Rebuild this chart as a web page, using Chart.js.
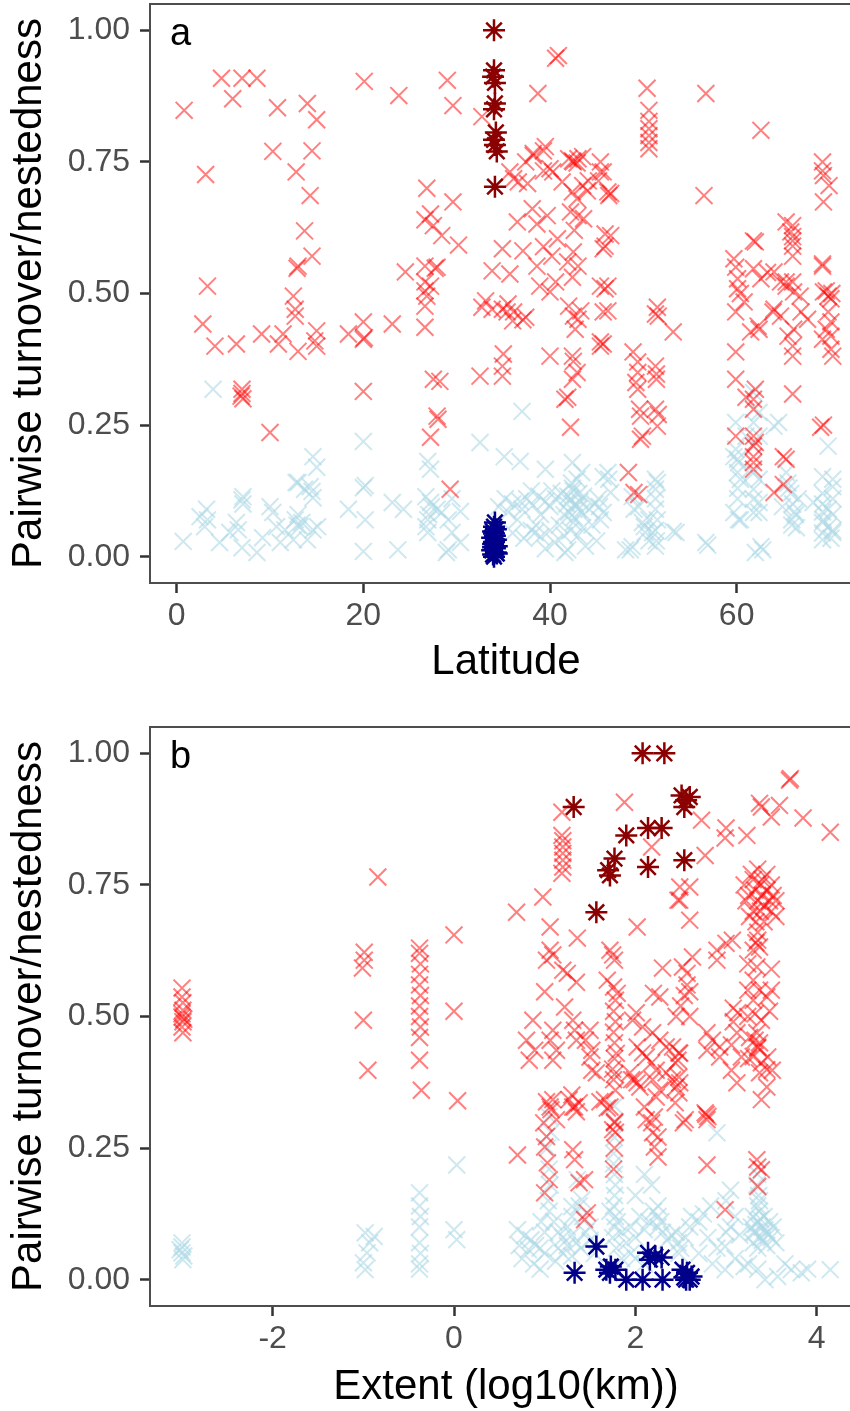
<!DOCTYPE html>
<html>
<head>
<meta charset="utf-8">
<script src="https://cdn.jsdelivr.net/npm/chart.js@4.4.1/dist/chart.umd.min.js"></script>
<style>
html,body{margin:0;padding:0;overflow:hidden;background:#fff;width:850px;height:1411px;}
#ca{position:absolute;left:0;top:0;}
#cb{position:absolute;left:0;top:700px;}
</style>
</head>
<body>
<canvas id="ca" width="870" height="700"></canvas>
<canvas id="cb" width="870" height="720"></canvas>
<script>
// ---------------- DATA ----------------
const yTicks = [0, 0.25, 0.5, 0.75, 1.0];
const aXTicks = [0, 20, 40, 60];
const bXTicks = [-2, 0, 2, 4];
const yTitle = 'Pairwise turnover/nestedness';
const aXTitle = 'Latitude';
const bXTitle = 'Extent (log10(km))';

// Panel a: [latitude, value]
const aTurnover = [
[0.8,0.848],[3.1,0.726],[4.8,0.909],[6.0,0.870],[7.0,0.909],[8.6,0.909],[10.8,0.853],[10.3,0.770],[14.0,0.861],[15.0,0.830],[14.5,0.771],[12.8,0.731],[14.3,0.686],[13.7,0.619],[14.5,0.571],[13.0,0.552],[12.9,0.548],[3.3,0.514],[12.5,0.495],[20.1,0.903],[23.8,0.876],[24.5,0.541],
[2.8,0.442],[4.1,0.400],[6.4,0.404],[9.1,0.423],[10.9,0.404],[11.4,0.423],[12.7,0.470],[12.7,0.457],[13.0,0.390],[15.0,0.429],[15.0,0.400],[14.8,0.410],[18.4,0.423],[20.0,0.446],[20.0,0.413],[20.1,0.416],[23.1,0.442],[20.0,0.314],[7.0,0.310],[7.1,0.300],[6.9,0.305],[7.0,0.318],[10.0,0.236],
[26.8,0.700],[29.6,0.674],[27.2,0.651],[26.6,0.640],[27.5,0.629],[28.4,0.610],[30.2,0.592],[26.6,0.552],[27.9,0.550],[27.7,0.548],[26.6,0.522],[27.2,0.514],[26.6,0.505],[26.8,0.495],[26.6,0.476],[26.6,0.436],[27.5,0.337],[28.2,0.333],[27.9,0.267],[28.0,0.261],[27.2,0.227],[29.3,0.128],[29.0,0.905],[29.6,0.857],[32.7,0.836],
[38.7,0.880],[40.9,0.952],[40.6,0.947],
[38.2,0.766],[39.5,0.779],[37.4,0.750],[35.7,0.731],[36.1,0.718],[36.6,0.712],[37.6,0.709],[39.3,0.733],[40.3,0.731],[41.3,0.712],[42.0,0.756],[42.5,0.750],[43.0,0.756],[42.4,0.752],[42.9,0.748],[43.5,0.760],[45.4,0.750],[45.4,0.731],[45.2,0.714],[46.3,0.686],[42.4,0.693],[42.9,0.680],[44.1,0.714],[43.5,0.705],[40.0,0.737],[45.7,0.731],[44.0,0.695],[46.2,0.693],[46.5,0.690],[38.2,0.762],[39.3,0.771],
[33.8,0.543],[35.7,0.537],[33.1,0.486],[33.8,0.470],[35.5,0.480],[36.1,0.465],[36.0,0.448],[37.4,0.455],[34.9,0.585],[36.5,0.636],[38.1,0.661],[38.6,0.632],[39.7,0.648],[37.1,0.581],[39.3,0.589],[40.8,0.604],[40.2,0.571],[38.6,0.552],[38.9,0.514],[40.0,0.503],[40.6,0.522],[41.9,0.560],[42.5,0.579],[43.0,0.552],[42.4,0.531],[42.0,0.476],[42.5,0.457],[43.0,0.451],[42.7,0.432],[43.3,0.467],[45.4,0.514],[45.9,0.509],[45.7,0.465],[45.4,0.400],[43.0,0.648],[43.6,0.642],[42.2,0.655],[42.6,0.620],[46.5,0.610],[45.7,0.585],[45.9,0.613],[45.9,0.590],[46.2,0.514],[46.2,0.467],[45.7,0.404],[32.7,0.474],[34.9,0.470],[35.4,0.465],[37.1,0.450],
[40.0,0.381],[42.4,0.381],[42.5,0.371],[42.9,0.350],[41.9,0.303],[35.0,0.385],[34.9,0.362],[32.5,0.343],[34.9,0.343],[42.4,0.337],[41.6,0.299],[42.2,0.246],[45.4,0.408],[48.4,0.160],[49.0,0.122],[49.5,0.118],[48.9,0.389],[49.4,0.370],[49.4,0.350],[49.2,0.331],[49.4,0.318],[49.6,0.280],[49.7,0.267],[49.9,0.229],[51.3,0.362],[51.4,0.347],[51.4,0.337],[51.3,0.280],[51.6,0.270],[51.5,0.248],[53.2,0.427],[51.3,0.461],[51.5,0.474],[51.6,0.457],[49.7,0.223],
[50.4,0.890],[50.6,0.848],[50.6,0.827],[50.6,0.813],[50.6,0.800],[50.6,0.787],[50.6,0.775],[56.7,0.880],[62.6,0.810],[56.5,0.686],[69.2,0.750],[69.2,0.733],[69.3,0.724],[69.9,0.705],[69.3,0.674],
[59.7,0.566],[59.9,0.550],[60.1,0.528],[61.8,0.600],[62.0,0.598],[61.8,0.547],[62.6,0.528],[63.3,0.540],[64.0,0.541],[65.3,0.636],[65.8,0.617],[66.0,0.608],[66.0,0.590],[66.0,0.571],[66.0,0.629],[66.0,0.600],[69.2,0.556],[69.2,0.552],[69.8,0.495],[70.1,0.490],[69.3,0.503],[69.6,0.505],[70.2,0.500],[65.3,0.514],[66.1,0.503],[64.7,0.522],[65.3,0.522],[66.0,0.522],[66.8,0.495],[64.0,0.470],[64.7,0.457],[62.3,0.438],[61.5,0.427],[62.4,0.432],[66.9,0.465],[67.6,0.451],[66.1,0.432],[66.0,0.400],[66.0,0.381],[65.5,0.419],[69.8,0.465],[70.1,0.446],[70.1,0.419],[70.1,0.394],[70.3,0.381],[69.2,0.413],[69.6,0.432],[60.1,0.509],[60.4,0.500],[60.8,0.484],[59.9,0.465],[63.9,0.465],[59.9,0.389],[59.9,0.337],[61.0,0.303],[61.8,0.299],[61.8,0.280],[62.0,0.318],[59.9,0.229],[61.8,0.229],[62.0,0.217],[61.8,0.210],[61.8,0.190],[61.8,0.179],[61.8,0.166],[66.0,0.309],[69.0,0.246],[69.3,0.250],[65.0,0.190],[65.3,0.185],[64.0,0.122],[65.0,0.137]
];

const aNestedness = [
[3.9,0.318],[20.0,0.219],[20.0,0.131],[20.2,0.135],[14.6,0.190],[15.0,0.170],[12.8,0.141],[13.0,0.141],[13.7,0.128],[14.5,0.124],[14.6,0.112],[14.3,0.133],[7.1,0.114],[7.1,0.100],[7.0,0.108],[3.2,0.090],[3.3,0.070],[2.5,0.076],[3.0,0.057],[0.7,0.029],[4.6,0.027],[5.7,0.046],[6.4,0.065],[6.6,0.051],[7.0,0.017],[8.6,0.008],[9.2,0.036],[10.0,0.095],[10.3,0.084],[10.7,0.057],[11.1,0.027],[11.6,0.051],[12.7,0.070],[13.0,0.080],[13.2,0.057],[13.4,0.065],[12.9,0.060],[12.5,0.032],[14.0,0.032],[14.6,0.051],[15.1,0.057],[18.4,0.090],[20.2,0.070],[20.0,0.010],[23.1,0.103],[24.3,0.090],[23.7,0.013],
[26.9,0.181],[27.2,0.166],[26.7,0.114],[27.2,0.103],[27.9,0.090],[26.9,0.070],[26.7,0.057],[26.9,0.046],[27.0,0.080],[27.3,0.095],[28.4,0.084],[29.1,0.070],[30.4,0.086],[29.5,0.110],[29.5,0.046],[29.1,0.013],[28.9,0.008],[30.4,0.027],[32.5,0.217],[35.1,0.190],[36.8,0.181],[37.0,0.276],[39.5,0.166],[42.4,0.179],[43.4,0.160],[42.9,0.147],[45.7,0.152],[46.3,0.147],[46.2,0.160],[46.5,0.122],[45.7,0.084],[45.3,0.095],[45.4,0.070],
[34.5,0.095],[35.2,0.110],[35.5,0.085],[36.0,0.100],[36.5,0.070],[36.8,0.105],[37.0,0.090],[37.5,0.110],[38.0,0.125],[38.2,0.098],[38.8,0.115],[39.0,0.080],[39.5,0.105],[40.0,0.095],[40.2,0.125],[40.6,0.110],[41.2,0.120],[41.5,0.080],[41.8,0.100],[42.0,0.085],[42.2,0.110],[42.4,0.130],[42.5,0.125],[42.6,0.075],[42.7,0.100],[42.8,0.095],[43.0,0.090],[43.1,0.120],[43.2,0.105],[43.6,0.115],[44.2,0.090],[44.8,0.100],[45.2,0.110],[42.3,0.140],[41.9,0.115],[43.4,0.085],
[36.0,0.045],[37.2,0.035],[38.0,0.050],[38.4,0.046],[38.5,0.060],[39.0,0.038],[39.5,0.015],[40.0,0.050],[40.5,0.027],[41.0,0.060],[41.5,0.040],[41.6,0.008],[41.9,0.013],[42.2,0.050],[42.5,0.065],[43.0,0.040],[43.5,0.055],[43.8,0.020],[44.5,0.060],[45.0,0.030],
[48.8,0.114],[49.5,0.095],[49.9,0.065],[50.2,0.046],[48.8,0.019],[48.1,0.013],[48.6,0.013],[49.0,0.090],[50.6,0.070],[50.1,0.057],[51.0,0.046],[50.6,0.030],[51.3,0.147],[51.5,0.141],[51.3,0.128],[51.3,0.110],[51.3,0.090],[51.5,0.070],[51.3,0.050],[51.4,0.030],[51.3,0.020],[53.2,0.048],[53.5,0.046],[56.7,0.027],[56.9,0.022],
[59.9,0.255],[59.7,0.190],[60.2,0.179],[59.9,0.204],[60.1,0.185],[60.4,0.147],[60.1,0.160],[60.1,0.130],[60.1,0.110],[59.7,0.084],[60.2,0.070],[60.4,0.070],[61.0,0.229],[61.8,0.312],[62.4,0.274],[61.8,0.255],[62.4,0.229],[61.8,0.210],[61.8,0.160],[62.4,0.147],[61.8,0.128],[61.8,0.109],[62.4,0.103],[61.8,0.084],[62.4,0.084],[62.8,0.013],[62.6,0.019],[62.0,0.008],[64.0,0.248],[64.5,0.255],
[65.3,0.160],[65.5,0.140],[65.8,0.120],[66.0,0.100],[66.2,0.085],[65.9,0.070],[66.4,0.055],[64.9,0.095],[65.6,0.130],[66.3,0.080],[65.9,0.060],[66.6,0.110],[68.2,0.103],
[69.2,0.152],[69.2,0.120],[69.2,0.100],[69.2,0.085],[69.3,0.070],[69.2,0.065],[69.2,0.045],[69.2,0.032],[70.3,0.147],[70.3,0.110],[70.3,0.080],[70.3,0.050],[69.8,0.057],[70.3,0.046],[69.8,0.210],[70.3,0.133],[69.8,0.090],[70.1,0.035]
];

const aTurnoverHighlight = [
[34.0,1.000],[34.0,0.924],[33.9,0.912],[34.1,0.900],[34.1,0.861],[34.0,0.850],[34.2,0.806],[34.0,0.792],[34.1,0.782],[34.3,0.770],[34.1,0.703]
];
const aNestednessHighlight = [
[34.0,0.000],[33.9,0.004],[34.2,0.008],[33.8,0.012],[34.1,0.016],[34.3,0.020],[33.9,0.024],[34.0,0.028],[34.2,0.032],[33.8,0.036],[34.1,0.040],[34.0,0.044],[33.9,0.048],[34.2,0.052],[34.0,0.057],[34.1,0.065],[33.9,0.018],[34.3,0.006]
];

// Panel b: [extent log10(km), value]
const bTurnover = [
[-3.00,0.554],[-3.00,0.537],[-2.99,0.526],[-2.99,0.512],[-3.00,0.505],[-3.00,0.499],[-2.98,0.495],[-2.99,0.490],[-3.00,0.480],[-2.99,0.469],
[-0.84,0.765],[-0.99,0.622],[-0.99,0.607],[-1.01,0.592],[-1.00,0.493],[-0.95,0.398],
[-0.38,0.630],[-0.38,0.620],[-0.37,0.600],[-0.38,0.580],[-0.38,0.560],[-0.37,0.540],[-0.38,0.520],[-0.38,0.500],[-0.37,0.480],[-0.38,0.460],[-0.38,0.417],[-0.36,0.360],
[0.00,0.655],[0.00,0.510],[0.04,0.340],
[0.70,0.237],[0.69,0.698],[0.98,0.727],[1.06,0.670],[1.36,0.649],[0.87,0.493],[0.80,0.455],[0.89,0.436],[0.83,0.417],
[1.02,0.338],[1.07,0.323],[0.99,0.298],[1.02,0.272],[1.00,0.252],[1.03,0.222],[1.00,0.165],[1.05,0.190],
[1.09,0.474],[1.06,0.455],[1.13,0.436],[1.09,0.417],[1.09,0.342],[1.06,0.328],[1.13,0.304],[1.27,0.342],[1.33,0.328],
[1.06,0.626],[1.09,0.617],[1.02,0.607],[1.20,0.588],[1.25,0.582],[1.00,0.547],[1.35,0.565],
[1.19,0.888],[1.19,0.844],[1.20,0.834],[1.20,0.822],[1.20,0.810],[1.20,0.797],[1.20,0.784],[1.19,0.772],[1.22,0.518],
[1.30,0.351],[1.31,0.328],[1.35,0.319],[1.38,0.336],[1.31,0.247],[1.33,0.228],[1.44,0.190],[1.38,0.184],[1.47,0.127],[1.44,0.114],
[1.31,0.493],[1.33,0.474],[1.35,0.455],[1.50,0.474],[1.45,0.455],[1.52,0.436],[1.50,0.423],[1.52,0.398],[1.57,0.393],
[1.66,0.342],[1.72,0.328],[1.61,0.338],[1.69,0.326],[1.77,0.298],[1.75,0.285],
[1.77,0.420],[1.77,0.390],[1.76,0.380],[1.78,0.360],[1.77,0.300],[1.78,0.280],[1.77,0.250],[1.76,0.210],
[1.72,0.626],[1.75,0.617],[1.77,0.607],[1.69,0.569],[1.76,0.556],[1.80,0.544],[1.78,0.531],[1.76,0.510],[1.78,0.490],[1.76,0.470],[1.77,0.450],[1.79,0.430],[1.75,0.400],
[1.88,0.907],[2.02,0.670],[2.18,0.822],[2.30,0.592],[2.20,0.544],[2.27,0.537],
[1.97,0.493],[2.01,0.507],[2.08,0.480],[2.19,0.469],[2.27,0.455],[2.34,0.442],[2.12,0.423],[2.18,0.412],[2.23,0.398],[2.19,0.380],[2.27,0.360],[2.23,0.347],
[2.02,0.442],[2.08,0.431],[1.96,0.380],[2.02,0.374],[1.94,0.393],[1.99,0.380],[2.05,0.366],
[2.10,0.328],[2.12,0.304],[2.21,0.309],[2.25,0.271],[2.21,0.252],[2.25,0.233],[2.18,0.298],[2.19,0.279],
[2.34,0.393],[2.41,0.380],[2.45,0.366],
[2.41,0.442],[2.48,0.431],[2.44,0.412],[2.48,0.385],[2.49,0.374],[2.48,0.355],[2.44,0.336],[2.55,0.304],[2.53,0.298],
[2.49,0.430],[2.47,0.417],
[2.52,0.594],[2.57,0.582],[2.63,0.613],[2.57,0.560],[2.60,0.547],[2.54,0.540],[2.50,0.520],[2.45,0.500],[2.60,0.500],
[2.49,0.721],[2.60,0.746],[2.47,0.721],[2.60,0.683],[2.49,0.746],[2.77,0.806],[2.73,0.873],
[2.77,0.317],[2.79,0.304],[2.80,0.310],[2.78,0.314],[2.79,0.218],[2.99,0.133],
[3.00,0.858],[2.99,0.839],[3.23,0.844],[2.90,0.626],[3.00,0.639],[3.07,0.645],[2.90,0.607],
[3.08,0.516],[3.13,0.507],[3.08,0.490],[3.12,0.469],[3.06,0.398],[3.12,0.374],[3.06,0.446],[3.17,0.423],
[2.79,0.469],[2.85,0.455],[2.93,0.442],[2.93,0.423],[2.79,0.436],
[3.20,0.750],[3.25,0.730],[3.30,0.760],[3.32,0.740],[3.35,0.720],[3.38,0.750],[3.40,0.730],[3.42,0.710],[3.45,0.740],[3.48,0.720],[3.50,0.700],[3.52,0.730],[3.55,0.690],[3.30,0.700],[3.28,0.770],[3.35,0.780],[3.40,0.760],[3.45,0.770],[3.22,0.720],[3.26,0.690],[3.33,0.680],[3.38,0.700],[3.50,0.750],[3.42,0.680],[3.55,0.720],[3.35,0.645],[3.37,0.632],[3.30,0.626],[3.35,0.660],[3.33,0.640],
[3.37,0.905],[3.39,0.898],[3.59,0.901],[3.50,0.879],[3.85,0.877],[4.15,0.850],[3.70,0.949],[3.71,0.952],
[3.34,0.594],[3.30,0.569],[3.37,0.550],[3.30,0.531],[3.45,0.537],[3.32,0.505],[3.39,0.493],[3.34,0.469],[3.37,0.450],[3.30,0.424],[3.45,0.399],[3.37,0.393],[3.45,0.366],[3.35,0.440],[3.32,0.455],[3.50,0.590],[3.50,0.550],[3.48,0.510],[3.24,0.600],[3.24,0.550],[3.24,0.500],[3.26,0.460],[3.25,0.420],
[3.35,0.442],[3.39,0.412],[3.46,0.423],[3.51,0.398],
[3.39,0.342],[3.34,0.228],[3.35,0.214],[3.39,0.209],[3.35,0.177]
];

const bNestedness = [
[-3.00,0.070],[-3.00,0.051],[-2.99,0.038],[-3.02,0.057],[-2.98,0.045],[-3.00,0.062],
[-0.98,0.089],[-0.88,0.082],[-0.93,0.070],[-0.96,0.051],[-1.00,0.032],[-0.98,0.019],
[-0.38,0.165],[-0.38,0.140],[-0.37,0.120],[-0.38,0.100],[-0.38,0.070],[-0.37,0.050],[-0.38,0.030],[-0.38,0.020],
[0.03,0.218],[0.00,0.095],[0.03,0.076],
[0.70,0.095],[0.78,0.084],[0.85,0.076],[0.90,0.065],[0.95,0.060],[1.00,0.050],[0.82,0.057],[0.72,0.065],[0.75,0.040],[0.88,0.030],[0.95,0.020],[1.00,0.090],[0.96,0.110],
[1.05,0.310],[1.07,0.280],[1.03,0.250],[1.05,0.210],[1.06,0.180],[1.04,0.150],[1.05,0.130],[1.10,0.110],
[1.15,0.090],[1.20,0.080],[1.25,0.100],[1.30,0.085],[1.35,0.070],[1.40,0.060],[1.45,0.090],[1.50,0.075],[1.20,0.050],[1.30,0.045],[1.15,0.060],[1.25,0.065],[1.42,0.120],[1.38,0.140],[1.30,0.120],[1.50,0.100],[1.55,0.050],[1.12,0.035],[1.30,0.139],[1.41,0.152],[1.36,0.190],
[1.77,0.330],[1.78,0.300],[1.77,0.270],[1.76,0.240],[1.77,0.200],[1.78,0.180],[1.77,0.160],[1.76,0.140],[1.78,0.120],[1.77,0.100],[1.75,0.080],[1.79,0.060],[1.76,0.220],[1.80,0.110],[1.72,0.130],
[1.85,0.090],[1.90,0.070],[1.95,0.100],[2.00,0.080],[2.05,0.120],[2.10,0.095],[2.15,0.110],[2.20,0.130],[2.25,0.140],[2.25,0.120],[2.25,0.100],[2.28,0.110],[2.30,0.090],[2.35,0.075],[2.40,0.085],[2.45,0.090],[2.47,0.070],[2.50,0.060],[2.48,0.050],[2.55,0.080],[2.60,0.100],[2.62,0.120],[1.95,0.050],[2.00,0.040],[2.10,0.030],[1.85,0.040],[2.18,0.180],[2.10,0.200],[2.00,0.160],
[2.70,0.110],[2.75,0.125],[2.83,0.140],[2.90,0.279],[2.99,0.063],[3.10,0.040],[3.20,0.025],[2.99,0.019],[2.80,0.080],[2.90,0.060],[3.00,0.090],[3.05,0.100],[3.10,0.120],[3.15,0.085],[2.70,0.050],[2.85,0.030],[3.00,0.150],[3.05,0.170],
[3.28,0.100],[3.30,0.120],[3.32,0.090],[3.35,0.110],[3.38,0.080],[3.40,0.100],[3.42,0.120],[3.45,0.090],[3.48,0.110],[3.50,0.080],[3.52,0.100],[3.55,0.070],[3.30,0.070],[3.35,0.060],[3.40,0.075],[3.45,0.065],[3.37,0.130],[3.33,0.105],[3.43,0.095],[3.47,0.085],[3.38,0.115],[3.30,0.090],
[3.35,0.140],[3.36,0.160],[3.34,0.180],[3.35,0.200],[3.37,0.150],
[3.72,0.019],[3.83,0.013],[4.15,0.019],[3.57,0.006],[3.43,0.000],[3.65,0.030],[3.90,0.020],[3.35,0.020],[3.25,0.030]
];

const bTurnoverHighlight = [
[2.08,1.000],[2.32,1.000],[1.32,0.898],[2.51,0.920],[2.60,0.917],[2.56,0.911],[2.54,0.898],[1.90,0.844],[2.14,0.858],[2.29,0.858],[1.77,0.800],[1.70,0.778],[1.72,0.768],[2.14,0.784],[2.54,0.797],[1.57,0.698]
];
const bNestednessHighlight = [
[1.33,0.013],[1.57,0.063],[1.68,0.019],[1.73,0.025],[1.78,0.019],[1.72,0.013],[1.90,0.000],[2.08,0.000],[2.14,0.051],[2.16,0.038],[2.22,0.044],[2.29,0.042],[2.30,0.000],[2.52,0.019],[2.57,0.013],[2.54,0.004],[2.60,0.000],[2.62,0.006],[2.56,0.000]
];

// ---------------- RENDER ----------------
const FONT = '"Liberation Sans", Arial, Helvetica, sans-serif';
const toPts = arr => arr.map(p => ({x: p[0], y: p[1]}));

const panelDeco = {
  id: 'panelDeco',
  afterDatasetsDraw(chart, args, opts) {
    const {ctx, chartArea: {left, top, right, bottom}} = chart;
    ctx.save();
    ctx.strokeStyle = '#4d4d4d';
    ctx.lineWidth = 2;
    ctx.strokeRect(left, top, right - left, bottom - top);
    ctx.fillStyle = '#000';
    ctx.font = '38px ' + FONT;
    ctx.textBaseline = 'alphabetic';
    ctx.textAlign = 'left';
    ctx.fillText(opts.letter, left + 20, top + 41);
    ctx.restore();
  }
};

function pointSet(data, style, radius, color, width, order) {
  return {
    data: toPts(data), showLine: false, order: order,
    pointStyle: style, pointRadius: radius, pointHoverRadius: radius,
    pointBorderColor: color, pointBackgroundColor: color,
    pointBorderWidth: width, pointHoverBorderWidth: width
  };
}

function makeChart(id, c) {
  return new Chart(document.getElementById(id), {
    type: 'scatter',
    data: { datasets: [
      pointSet(c.hiTurn, 'star', 11, '#8B0000', 2.5, 0),
      pointSet(c.hiNest, 'star', 11, '#00008B', 2.5, 1),
      pointSet(c.turn, 'crossRot', 12, 'rgba(255,0,0,0.5)', 2, 2),
      pointSet(c.nest, 'crossRot', 12, 'rgba(173,216,230,0.6)', 2, 3)
    ]},
    options: {
      responsive: false, animation: false, events: [],
      layout: { autoPadding: false, padding: { top: c.padTop, left: 0, right: 8, bottom: 0 } },
      plugins: { legend: { display: false }, tooltip: { enabled: false }, panelDeco: { letter: c.letter } },
      scales: {
        x: {
          type: 'linear', min: c.xMin, max: c.xMax,
          afterBuildTicks: s => { s.ticks = c.xTicks.map(v => ({ value: v })); },
          afterFit: s => { s.height = c.xAxisH; s.paddingLeft = 0; s.paddingRight = 0; },
          ticks: { color: '#4D4D4D', font: { family: FONT, size: 32 }, padding: 4, maxRotation: 0, autoSkip: false,
                   callback: v => String(v) },
          grid: { display: true, drawOnChartArea: false, drawTicks: true, tickLength: 10, tickWidth: 2.5, tickColor: '#333' },
          border: { display: false },
          title: { display: true, text: c.xTitle, color: '#000', font: { family: FONT, size: 42 }, padding: { top: 0, bottom: c.xTitlePadB } }
        },
        y: {
          type: 'linear', min: -0.05, max: 1.05,
          afterBuildTicks: s => { s.ticks = yTicks.map(v => ({ value: v })); },
          afterFit: s => { s.width = 150; s.paddingTop = 0; s.paddingBottom = 0; },
          ticks: { color: '#4D4D4D', font: { family: FONT, size: 32 }, padding: 10, autoSkip: false,
                   callback: v => Number(v).toFixed(2) },
          grid: { display: true, drawOnChartArea: false, drawTicks: true, tickLength: 10, tickWidth: 2.5, tickColor: '#333' },
          border: { display: false },
          title: { display: true, text: yTitle, color: '#000', font: { family: FONT, size: 42 }, padding: { top: 4, bottom: 0 } }
        }
      }
    },
    plugins: [panelDeco]
  });
}

makeChart('ca', {
  letter: 'a', turn: aTurnover, nest: aNestedness, hiTurn: aTurnoverHighlight, hiNest: aNestednessHighlight,
  xMin: -2.86, xMax: 73.43, xTicks: aXTicks, xTitle: aXTitle, padTop: 4, xAxisH: 117, xTitlePadB: 12
});
makeChart('cb', {
  letter: 'b', turn: bTurnover, nest: bNestedness, hiTurn: bTurnoverHighlight, hiNest: bNestednessHighlight,
  xMin: -3.353, xMax: 4.5, xTicks: bXTicks, xTitle: bXTitle, padTop: 27, xAxisH: 114, xTitlePadB: 7
});
</script>
</body>
</html>
